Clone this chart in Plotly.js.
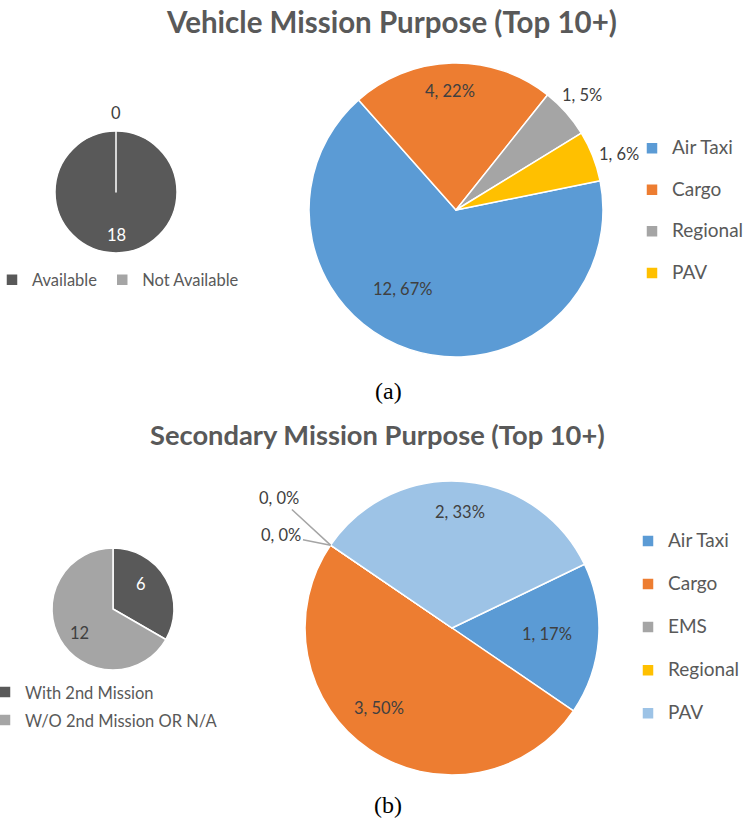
<!DOCTYPE html>
<html><head><meta charset="utf-8">
<script src="https://cdn.plot.ly/plotly-3.0.1.min.js"></script>
<style>html,body{margin:0;padding:0;background:#fff;}#chart{width:748px;height:823px;}</style>
</head><body><div id="chart"></div>
<script>
// ---------------- data ----------------
const availLabels = ['Available', 'Not Available'];
const availValues = [18, 0];

const missionLabels = ['Air Taxi', 'Cargo', 'Regional', 'PAV'];
const missionValues = [12, 4, 1, 1];
const missionPct = [67, 22, 5, 6];

const secondLabels = ['With 2nd Mission', 'W/O 2nd Mission OR N/A'];
const secondValues = [6, 12];

const secMissionLabels = ['Air Taxi', 'Cargo', 'EMS', 'Regional', 'PAV'];
const secMissionValues = [1, 3, 0, 0, 2];
const secMissionPct = [17, 50, 0, 0, 33];

const titles = ['Vehicle Mission Purpose (Top 10+)', 'Secondary Mission Purpose (Top 10+)'];
const captions = ['(a)', '(b)'];

// ---------------- styling / layout ----------------
const W = 748, H = 823;
const FONT = 'Lato, "Open Sans", sans-serif';
const C = {blue:'#5B9BD5', orange:'#ED7D31', grey:'#A5A5A5', gold:'#FFC000', lightblue:'#9DC3E6', dark:'#595959'};

const geo = {
  avail:      {cx:116, cy:192, r:61,  rot:0},
  mission:    {cx:456, cy:210, r:147, rot:78.5},
  second:     {cx:113, cy:609, r:61,  rot:0},
  secMission: {cx:452, cy:628, r:147, rot:64.3}
};
function dom(g){ return {x:[(g.cx-g.r)/W,(g.cx+g.r)/W], y:[1-(g.cy+g.r)/H, 1-(g.cy-g.r)/H]}; }

function pieTrace(g, labels, values, colors, legend, legendLabels){
  return {
    type:'pie', labels: legendLabels || labels, values: values, sort:false, direction:'clockwise',
    rotation:g.rot, domain:dom(g), textinfo:'none', hoverinfo:'label+value+percent',
    marker:{colors:colors, line:{color:'#ffffff', width:1.5}},
    legend:legend, showlegend:true
  };
}

// label annotations derived from the values (angle of each slice), k = radius factor, d = angle tweak
const LABEL_SIZE = 16.5;
function sliceLabels(g, values, texts, colors, k, d, leader){
  const total = values.reduce((a,b)=>a+b,0);
  let cum = 0; const out = [];
  values.forEach((v,i)=>{
    const start = (g.rot + cum/total*360);
    const mid = (g.rot + (cum + v/2)/total*360 + d[i]) * Math.PI/180;
    cum += v;
    const tx = g.cx + k[i]*g.r*Math.sin(mid), ty = g.cy - k[i]*g.r*Math.cos(mid);
    const base = {xref:'paper', yref:'paper', text:texts[i], xanchor:'center', yanchor:'middle',
                  font:{family:FONT, size:LABEL_SIZE, color:colors[i]}};
    if (leader && leader[i]) {
      const s = start*Math.PI/180;
      const px = g.cx + g.r*Math.sin(s), py = g.cy - g.r*Math.cos(s);
      out.push(Object.assign(base, {x:px/W, y:1-py/H, showarrow:true, arrowhead:0, arrowwidth:1.5,
        arrowcolor:'#A5A5A5', standoff:0, ax:tx-px, ay:ty-py}));
    } else {
      out.push(Object.assign(base, {x:tx/W, y:1-ty/H, showarrow:false}));
    }
  });
  return out;
}

// legend label wrappers (extra blank line sets Excel-like row spacing)
const bigLeg = (l, tail) => '<span style="font-size:19px">' + l + '</span><br>' + tail;
const smallLeg = l => '<span style="font-size:16.5px">' + l + '</span>';

const data = [
  pieTrace(geo.avail, availLabels, availValues, [C.dark, C.grey], 'legend'),
  pieTrace(geo.mission, missionLabels, missionValues, [C.blue, C.orange, C.grey, C.gold], 'legend2',
           missionLabels.map(l => bigLeg(l, ' '))),
  pieTrace(geo.second, secondLabels, secondValues, [C.dark, C.grey], 'legend3', secondLabels.map(smallLeg)),
  pieTrace(geo.secMission, secMissionLabels, secMissionValues, [C.blue, C.orange, C.grey, C.gold, C.lightblue], 'legend4',
           secMissionLabels.map(l => bigLeg(l, '\u00a0')))
];

const TXT = '#404040';
let annotations = [];
annotations = annotations.concat(
  sliceLabels(geo.avail, availValues, availValues.map(String), ['#ffffff', TXT], [0.7, 1.3], [0, 0]),
  sliceLabels(geo.mission, missionValues, missionValues.map((v,i)=>v+', '+missionPct[i]+'%'),
              [TXT,TXT,TXT,TXT], [0.65, 0.81, 1.16, 1.17], [15.5, -1.5, -0.7, 2.5]),
  sliceLabels(geo.second, secondValues, secondValues.map(String), ['#ffffff', TXT], [0.61, 0.67], [-12, -6]),
  sliceLabels(geo.secMission, secMissionValues, secMissionValues.map((v,i)=>v+', '+secMissionPct[i]+'%'),
              [TXT,TXT,TXT,TXT,TXT], [0.65, 0.74, 1.47, 1.32, 0.79], [-0.7, 8, 2.7, -5.8, -0.3], [false,false,true,true,false])
);
annotations.push(
  {xref:'paper', yref:'paper', x:377/W, y:1-434/H, xanchor:'center', yanchor:'middle', showarrow:false,
   text:titles[1], font:{family:FONT, size:27.3, color:'#595959', weight:'bold'}},
  {xref:'paper', yref:'paper', x:388/W, y:1-391/H, xanchor:'center', yanchor:'middle', showarrow:false,
   text:captions[0], font:{family:'"Liberation Serif", "Times New Roman", serif', size:24, color:'#000'}},
  {xref:'paper', yref:'paper', x:388/W, y:1-805/H, xanchor:'center', yanchor:'middle', showarrow:false,
   text:captions[1], font:{family:'"Liberation Serif", "Times New Roman", serif', size:24, color:'#000'}}
);

const legFont = s => ({family:FONT, size:s, color:'#595959'});
const layout = {
  width:W, height:H, margin:{l:0, r:0, t:0, b:0, autoexpand:false}, paper_bgcolor:'#fff', plot_bgcolor:'#fff',
  title:{text:titles[0], x:392/W, xanchor:'center', y:1-23/H, yanchor:'middle',
         font:{family:FONT, size:29.5, color:'#595959', weight:'bold'}},
  legend:{orientation:'h', x:-8/W, xanchor:'left', y:1-280/H, yanchor:'middle', font:legFont(16.5),
          bgcolor:'rgba(0,0,0,0)', traceorder:'normal'},
  legend2:{x:632/W, xanchor:'left', y:1-132/H, yanchor:'top', font:legFont(14.85), valign:'top', bgcolor:'rgba(0,0,0,0)'},
  legend3:{x:-15/W, xanchor:'left', y:1-673/H, yanchor:'top', font:legFont(19.2), bgcolor:'rgba(0,0,0,0)'},
  legend4:{x:628/W, xanchor:'left', y:1-524.5/H, yanchor:'top', font:legFont(15.4), valign:'top', bgcolor:'rgba(0,0,0,0)'},
  annotations:annotations,
  showlegend:true
};

Plotly.newPlot('chart', data, layout, {staticPlot:true, displayModeBar:false});
</script>
</body></html>
